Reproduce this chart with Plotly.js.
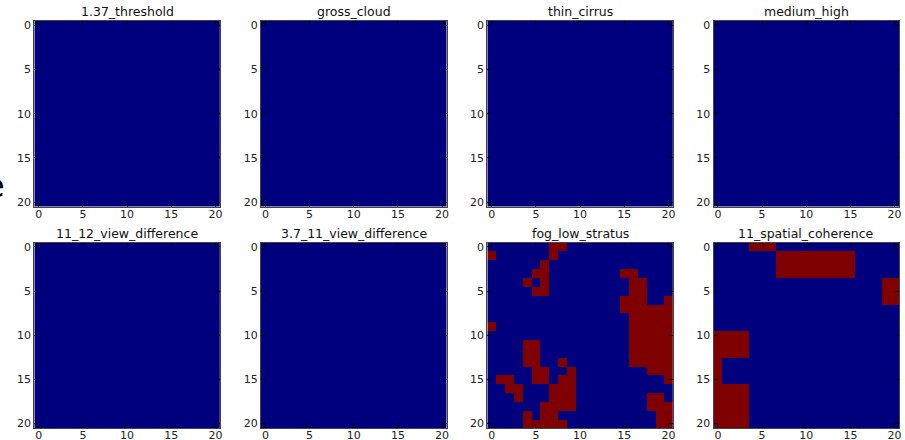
<!DOCTYPE html>
<html>
<head>
<meta charset="utf-8">
<script src="https://cdn.plot.ly/plotly-3.0.1.min.js"></script>
<style>html,body{margin:0;padding:0;background:#fff;}#chart{width:905px;height:440px;}</style>
</head>
<body>
<div id="chart"></div>
<script>
// Panel titles, in reading order
const panelTitles = [
  "1.37_threshold", "gross_cloud", "thin_cirrus", "medium_high",
  "11_12_view_difference", "3.7_11_view_difference", "fog_low_stratus", "11_spatial_coherence"
];

// Pixel grid coordinates (21 x 21)
const gridIndex = [0,1,2,3,4,5,6,7,8,9,10,11,12,13,14,15,16,17,18,19,20];
const tickValues = [0, 5, 10, 15, 20];
const tickLabels = ["0", "5", "10", "15", "20"];

// Masks: each string is one row (row 0 at top), one char per column
const emptyMask = [
  "000000000000000000000","000000000000000000000","000000000000000000000",
  "000000000000000000000","000000000000000000000","000000000000000000000",
  "000000000000000000000","000000000000000000000","000000000000000000000",
  "000000000000000000000","000000000000000000000","000000000000000000000",
  "000000000000000000000","000000000000000000000","000000000000000000000",
  "000000000000000000000","000000000000000000000","000000000000000000000",
  "000000000000000000000","000000000000000000000","000000000000000000000"
];

const fogLowStratusMask = [
  "000000011000000000000",
  "100000010000000000000",
  "000000100000000000000",
  "000001100000000110000",
  "000010100000000011000",
  "000001100000000011000",
  "000000000000000111001",
  "000000000000000111111",
  "000000000000000011111",
  "100000000000000011111",
  "000000000000000011111",
  "000011000000000011111",
  "000011000000000011111",
  "000011001000000011111",
  "000001100100000000111",
  "011001101100000000001",
  "001100011100000000000",
  "000100011100000000110",
  "000000111100000000111",
  "000010110000000000011",
  "000011111000000000011"
];

const spatialCoherenceMask = [
  "000011100000000000000",
  "000000011111111100000",
  "000000011111111100000",
  "000000011111111100000",
  "000000000000000000011",
  "000000000000000000011",
  "000000000000000000011",
  "000000000000000000000",
  "000000000000000000000",
  "000000000000000000000",
  "111100000000000000000",
  "111100000000000000000",
  "111100000000000000000",
  "100000000000000000000",
  "100000000000000000000",
  "100000000000000000000",
  "111100000000000000000",
  "111100000000000000000",
  "111100000000000000000",
  "111100000000000000000",
  "111100000000000000000"
];

const panelMasks = [
  emptyMask, emptyMask, emptyMask, emptyMask,
  emptyMask, emptyMask, fogLowStratusMask, spatialCoherenceMask
];

const toGrid = m => m.map(r => r.split('').map(Number));

const W = 905, H = 440;
const colLeft = [34.3, 261, 487.3, 713.5];
const panelW = 185.5;
const rowTop = [21, 242.5];
const panelH = 185.5;
const font = "DejaVu Sans, sans-serif";

const data = [];
const layout = {
  width: W, height: H,
  margin: {l: 0, r: 0, t: 0, b: 0},
  paper_bgcolor: "#ffffff",
  plot_bgcolor: "#ffffff",
  showlegend: false,
  font: {family: font, size: 11, color: "#222"},
  annotations: []
};

panelMasks.forEach((mask, i) => {
  const r = Math.floor(i / 4), c = i % 4;
  const n = i + 1;
  const xa = "x" + (n === 1 ? "" : n), ya = "y" + (n === 1 ? "" : n);
  data.push({
    type: "heatmap",
    x: gridIndex, y: gridIndex, z: toGrid(mask),
    zmin: 0, zmax: 1,
    colorscale: [[0, "#00007f"], [1, "#7f0000"]],
    showscale: false, hoverinfo: "skip",
    xaxis: xa, yaxis: ya
  });
  const x0 = colLeft[c] / W, x1 = (colLeft[c] + panelW) / W;
  const y1 = 1 - rowTop[r] / H, y0 = 1 - (rowTop[r] + panelH) / H;
  const axCommon = {
    showgrid: false, zeroline: false,
    showline: true, linecolor: "#444", linewidth: 1, mirror: "ticks",
    ticks: "inside", ticklen: 4, tickcolor: "#000", tickwidth: 1,
    tickvals: tickValues, ticktext: tickLabels,
    tickfont: {family: font, size: 11, color: "#222"},
    fixedrange: true
  };
  layout["xaxis" + (n === 1 ? "" : n)] = Object.assign({}, axCommon, {
    domain: [x0, x1], anchor: ya, range: [-0.5, 20.5], ticklabelstandoff: -3
  });
  layout["yaxis" + (n === 1 ? "" : n)] = Object.assign({}, axCommon, {
    domain: [y0, y1], anchor: xa, range: [20.5, -0.5]
  });
  layout.annotations.push({
    text: panelTitles[i], xref: "paper", yref: "paper",
    x: (x0 + x1) / 2, y: y1, xanchor: "center", yanchor: "bottom",
    yshift: 0, showarrow: false,
    font: {family: font, size: 12.5, color: "#111"}
  });
});

// Clipped glyph at the left edge of the figure
layout.annotations.push({
  text: "e", xref: "paper", yref: "paper",
  x: -5 / W, y: 1 - 186 / H, xanchor: "center", yanchor: "middle",
  showarrow: false, font: {family: font, size: 32, color: "#000"}
});

Plotly.newPlot("chart", data, layout, {staticPlot: true, displayModeBar: false});
</script>
</body>
</html>
